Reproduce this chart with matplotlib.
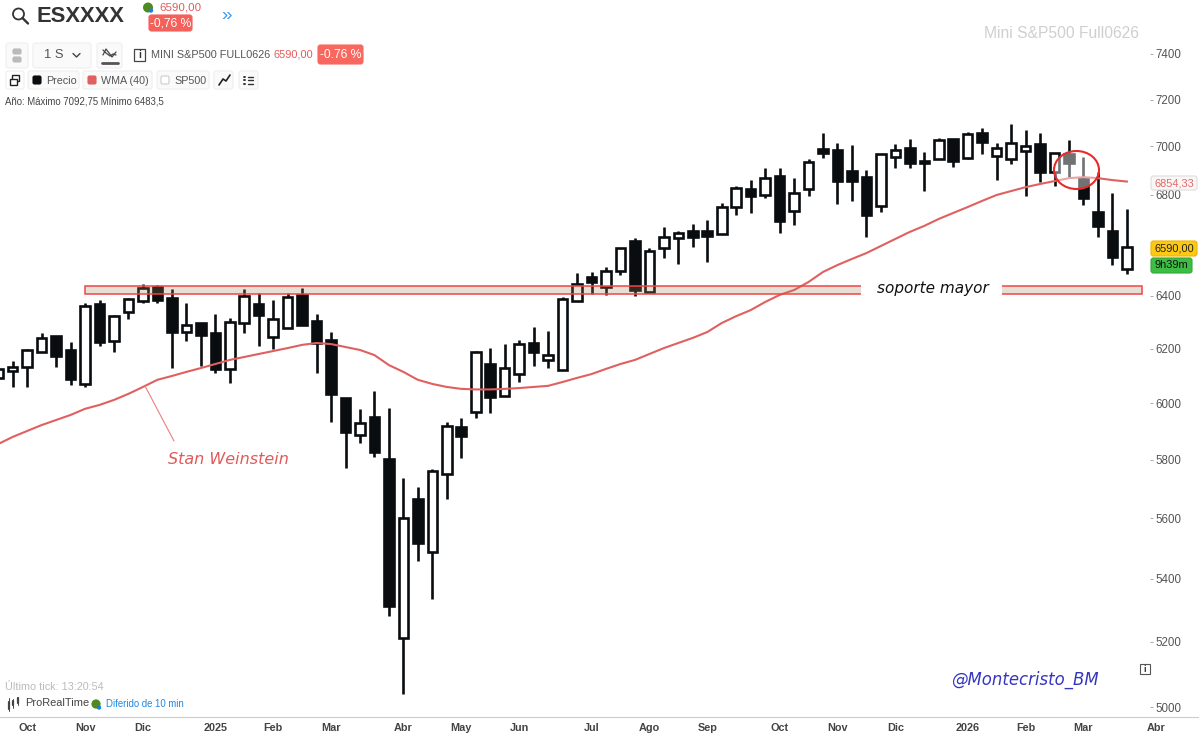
import numpy as np
import matplotlib
matplotlib.use("Agg")
import matplotlib.pyplot as plt
from matplotlib.patches import Rectangle, FancyBboxPatch, Ellipse, Circle
from matplotlib.lines import Line2D
from matplotlib.transforms import Affine2D
from matplotlib.ticker import FixedLocator, NullLocator, FixedFormatter

plt.rcParams['font.family'] = ['Liberation Sans', 'DejaVu Sans']

# ---------- data (weekly candles, index -1 .. 77) ----------
opens = [6092,6118,6132,6188,6247,6195,6070,6368,6228,6337,6380,6434,6392,6262,6296,6259,6125,6296,6368,6243,6277,6403,6303,6232,6019,5886,5951,5803,5212,5665,5488,5751,5915,5969,6143,6027,6106,6221,6158,6121,6380,6473,6434,6496,6614,6415,6586,6626,6654,6654,6642,6750,6823,6799,6876,6734,6823,6989,6985,6898,6872,6755,6955,6993,6939,6947,7031,6951,7056,6960,6947,6980,7010,6893,6968,6868,6730,6654,6504]
highs = [6136,6154,6199,6259,6247,6225,6372,6384,6326,6392,6446,6442,6427,6372,6296,6330,6315,6427,6411,6384,6411,6430,6330,6262,6019,5980,6045,5983,5737,5706,5768,5933,5947,6191,6202,6217,6232,6281,6266,6395,6488,6492,6511,6586,6626,6586,6670,6654,6682,6698,6767,6835,6860,6910,6910,6868,6947,7056,7014,7006,6902,6968,7010,7031,6976,7035,7031,7060,7077,7014,7093,7069,7056,6972,7027,6955,6893,6807,6742]
lows = [6063,6059,6059,6188,6132,6066,6059,6210,6188,6311,6372,6372,6128,6228,6136,6110,6074,6259,6210,6199,6277,6288,6110,5933,5772,5858,5810,5282,5039,5459,5336,5665,5806,5947,5965,6027,6077,6136,6128,6121,6380,6407,6403,6481,6399,6415,6547,6524,6590,6531,6642,6718,6726,6787,6646,6678,6795,6951,6763,6775,6630,6730,6910,6910,6815,6947,6914,6947,6968,6860,6926,6795,6852,6835,6872,6759,6630,6520,6484]
closes = [6125,6132,6195,6240,6173,6088,6360,6225,6322,6388,6430,6384,6262,6288,6251,6125,6300,6399,6326,6311,6395,6288,6221,6034,5897,5929,5827,5314,5601,5518,5761,5919,5883,6188,6023,6128,6217,6188,6176,6388,6446,6453,6496,6586,6422,6574,6630,6646,6630,6634,6750,6827,6795,6868,6694,6807,6935,6972,6856,6856,6718,6968,6985,6931,6931,7027,6939,7052,7018,6993,7014,7002,6893,6972,6931,6787,6674,6551,6590]
wma40 = [5855,5880,5901,5922,5940,5958,5980,5994,6012,6034,6059,6085,6099,6114,6128,6143,6158,6169,6180,6191,6202,6214,6221,6217,6206,6195,6176,6139,6114,6085,6070,6059,6052,6050,6050,6052,6055,6059,6063,6077,6092,6106,6125,6143,6158,6180,6202,6221,6240,6262,6296,6322,6345,6376,6403,6422,6453,6492,6519,6543,6566,6594,6622,6650,6674,6702,6726,6750,6775,6799,6815,6831,6844,6856,6868,6872,6868,6860,6854]
weeks = list(range(-1, 78))

# 6600 is covered by the last-price flag in the reference
price_ticks = [5000,5200,5400,5600,5800,6000,6200,6400,6800,7000,7200,7400]
month_pos = [1,5,9,14,18,22,27,31,35,40,44,48,53,57,61,66,70,74]
month_lab = ["Oct","Nov","Dic","2025","Feb","Mar","Abr","May","Jun","Jul","Ago","Sep","Oct","Nov","Dic","2026","Feb","Mar"]
next_month_pos, next_month_lab = 79, "Abr"
support_low, support_high = 6408, 6438

# ---------- figure ----------
W, H = 1199, 735
fig = plt.figure(figsize=(W/100, H/100), dpi=100, facecolor="white")
AX_R, AX_B = 1150, 717
ax = fig.add_axes([0, (H-AX_B)/H, AX_R/W, AX_B/H], facecolor="white")
X0, DX = 12.7, 14.47
ax.set_yscale("log")
ax.set_ylim(5000*np.exp(-(AX_B-707)/1666), 5000*np.exp(707/1666))

INK = "#0a0d10"
xs = np.array(weeks, float)
O, Hi, Lo, C = map(np.array, (opens, highs, lows, closes))
ax.vlines(xs, Lo, Hi, color=INK, lw=1.9, zorder=2)
tops, bots = np.maximum(O, C), np.minimum(O, C)
fc = ["white" if c >= o else INK for o, c in zip(O, C)]
ax.bar(xs, tops-bots, bottom=bots, width=0.66, color=fc, edgecolor=INK, lw=1.9, zorder=3)
ax.plot(xs, wma40, color="#e06060", lw=1.5, zorder=4)

ax.add_patch(Rectangle((5, support_low), 73.05, support_high-support_low,
                       facecolor=(163/255,131/255,83/255,0.25), edgecolor="#f04545", lw=1.1, zorder=5))

for s in ax.spines.values():
    s.set_visible(False)
ax.yaxis.tick_right()
ax.yaxis.set_major_locator(FixedLocator(price_ticks))
ax.yaxis.set_major_formatter(FixedFormatter([str(p) for p in price_ticks]))
ax.yaxis.set_minor_locator(NullLocator())
ax.tick_params(axis="y", length=2.5, width=0.7, color="#aaaaaa", labelcolor="#555555", labelsize=8.3, pad=1.5)
ax.set_xticks(month_pos)
ax.set_xticklabels(month_lab, fontweight="bold")
ax.tick_params(axis="x", length=0, labelcolor="#444444", labelsize=7.8, pad=4.2)
ax.set_xlim((0-X0)/DX, (AX_R-X0)/DX)
ax.set_ylim(5000*np.exp(-(AX_B-707)/1666), 5000*np.exp(707/1666))
ax.annotate(next_month_lab, xy=(next_month_pos, 0), xycoords=ax.get_xaxis_transform(),
            xytext=(0, -4.2), textcoords="offset points", ha="center", va="top",
            fontsize=7.8, fontweight="bold", color="#444444", annotation_clip=False)

# ---------- overlay helpers, in reference pixels ----------
T = Affine2D().scale(1, -1).translate(0, H)
def px(x, y, s, size=11, color="#555555", ha="left", va="center", **kw):
    return fig.text(x, y, s, transform=T, fontsize=size*0.72, color=color, ha=ha, va=va, **kw)
def box(x0, y0, x1, y1, fc="#fafafa", ec="#eeeeee", r=2.5, lw=0.8, z=6):
    fig.add_artist(FancyBboxPatch((x0+r, y0+r), x1-x0-2*r, y1-y0-2*r,
                                  boxstyle=f"round,pad={r},rounding_size={r}",
                                  transform=T, fc=fc, ec=ec, lw=lw, zorder=z))
def seg(xa, ya, color="#333333", lw=1.2, z=7):
    fig.add_artist(Line2D(xa, ya, transform=T, color=color, lw=lw, zorder=z, solid_capstyle="round"))

# bottom rule
seg([0, W], [717, 717], "#cccccc", 0.8, 1)

# chart annotations
fig.add_artist(Ellipse((1076.5, 170), 45, 38, transform=T, fc=(1, 1, 1, 0.42), ec="#e82a2a", lw=1.5, zorder=5))
fig.add_artist(Rectangle((861, 284), 141, 12, transform=T, fc="white", ec="none", zorder=5))
px(933, 289, "soporte mayor", 15.3, "#111111", ha="center", style="italic", family="DejaVu Sans", zorder=6)
seg([145, 174], [386, 441], "#e88080", 0.8, 4)
px(228, 460, "Stan Weinstein", 16, "#e05a5a", ha="center", style="italic", family="DejaVu Sans")
px(1025, 680, "@Montecristo_BM", 16.5, "#3535c0", ha="center", style="italic", family="DejaVu Sans")
px(1061, 33, "Mini S&P500 Full0626", 15.6, "#cfcfcf", ha="center")

# price labels
box(1151, 176, 1197, 190, fc="#fbf6f6", ec="#dddddd")
px(1174, 183, "6854,33", 11, "#e06a6a", ha="center", zorder=8)
box(1151, 241, 1197, 256, fc="#fdc913", ec="#f0b400")
px(1174, 248.5, "6590,00", 11, "#222222", ha="center", zorder=8)
box(1151, 258, 1192, 273, fc="#3ebd45", ec="#32a83a")
px(1171.5, 265.5, "9h39m", 11, "#111111", ha="center", zorder=8)

# header
fig.add_artist(Circle((18.5, 14), 5.5, transform=T, fc="none", ec="#333333", lw=1.3, zorder=7))
seg([22.5, 28], [18, 23.5], lw=1.7)
px(36, 17, "ESXXXX", 22, "#333333", fontweight="bold")
fig.add_artist(Circle((148, 7.5), 5, transform=T, fc="#4d8a20", ec="none", zorder=7))
fig.add_artist(Circle((151, 10.5), 2.2, transform=T, fc="#1c7fe0", ec="none", zorder=8))
px(159, 7, "6590,00", 11.5, "#e25b5b")
box(149, 15, 192, 31, fc="#f4605a", ec="#f4605a")
px(170.5, 23, "-0,76 %", 12, "white", ha="center", zorder=8)
px(226, 15.5, "»", 19, "#3b9bf0", ha="center")

# row 2
box(6, 43, 28, 68)
box(13, 49, 21, 54, fc="#bbbbbb", ec="#bbbbbb", r=1.5, z=7)
box(13, 57, 21, 62, fc="#bbbbbb", ec="#bbbbbb", r=1.5, z=7)
box(33, 43, 91, 68)
px(54, 55, "1 S", 13, "#555555", ha="center", zorder=8)
seg([73, 76.5, 80], [53.5, 57, 53.5], "#444444", 1.0)
box(97, 43, 122, 68)
seg([103, 106, 109, 112, 116], [55, 49, 53, 57, 52], "#444444", 0.9)
seg([103, 106, 110, 113, 116], [50, 53, 56, 54, 55], "#444444", 0.9)
seg([102, 118], [63, 63], "#555555", 2.0)
fig.add_artist(Rectangle((133.5, 49), 11.5, 11.5, transform=T, fc="white", ec="#444444", lw=0.9, zorder=7))
px(139.3, 55, "i", 10, "#333333", ha="center", fontweight="bold", zorder=8)
px(151, 54.5, "MINI S&P500 FULL0626", 10.9, "#555555")
px(274, 54.5, "6590,00", 11, "#e25b5b")
box(318, 45, 363, 64, fc="#f9685f", ec="#f9685f")
px(340.5, 54.5, "-0.76 %", 12, "white", ha="center", zorder=8)

# row 3
box(6, 71, 24, 89, fc="white")
fig.add_artist(Rectangle((12, 75), 7, 6, transform=T, fc="white", ec="#222222", lw=1.0, zorder=7))
fig.add_artist(Rectangle((9.5, 78.5), 7, 6, transform=T, fc="white", ec="#222222", lw=1.0, zorder=8))
box(28, 71, 79, 89)
box(33, 76, 41, 84, fc="#0a0d10", ec="#0a0d10", r=1.5, z=7)
px(46, 80.5, "Precio", 10.8, "#555555", zorder=8)
box(83, 71, 152, 89)
box(88, 76, 96, 84, fc="#e06060", ec="#e06060", r=1.5, z=7)
px(101, 80.5, "WMA (40)", 10.8, "#555555", zorder=8)
box(157, 71, 209, 89)
box(161, 76, 169, 84, fc="white", ec="#cccccc", r=1.5, z=7)
px(174, 80.5, "SP500", 10.8, "#555555", zorder=8)
box(214, 71, 233, 89)
seg([219, 223, 226, 230], [85, 79, 81, 75], "#222222", 1.2)
box(239, 71, 258, 89)
for yy in (76.5, 80, 83.5):
    seg([244, 245], [yy, yy], "#333333", 1.4)
    seg([247.5, 253], [yy, yy], "#333333", 1.0)
px(5, 101, "Año: Máximo 7092,75 Mínimo 6483,5", 9.7, "#444444")

# footer
px(5, 687, "Último tick: 13:20:54", 10.7, "#bbbbbb")
for xx, y0, y1, ya, yb in ((8.5, 698, 711, 702, 709), (13, 699, 708, 701, 705), (18, 697, 705, 698, 703)):
    seg([xx, xx], [y0, y1], "#444444", 0.7)
    seg([xx, xx], [ya, yb], "#444444", 1.6)
px(25, 703, "ProRealTime", 11, "#444444")
fig.add_artist(Circle((96, 704), 4.6, transform=T, fc="#4d8a20", ec="none", zorder=7))
fig.add_artist(Circle((99, 707.5), 2.2, transform=T, fc="#1c7fe0", ec="none", zorder=8))
px(106, 704, "Diferido de 10 min", 9.7, "#1e88e5")
fig.add_artist(Rectangle((1140, 664), 10, 10, transform=T, fc="white", ec="#555555", lw=0.8, zorder=7))
px(1145, 669, "i", 9, "#333333", ha="center", fontweight="bold", zorder=8)

fig.savefig("out.png", dpi=100, facecolor="white")
